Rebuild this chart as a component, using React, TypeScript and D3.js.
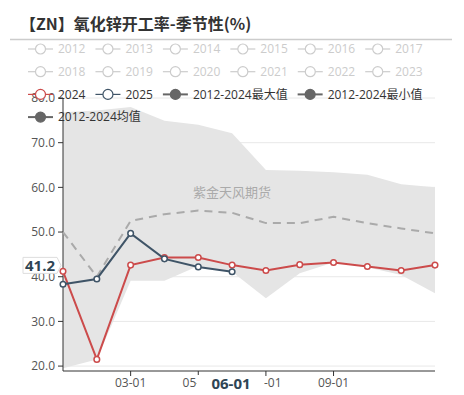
import React from 'react';
import * as d3 from 'd3';

const months = ['01-01', '02-01', '03-01', '04-01', '05-01', '06-01', '07-01', '08-01', '09-01', '10-01', '11-01', '12-01'];
const shownTicks = ['03-01', '05-01', '07-01', '09-01'];
const yTicks = [20, 30, 40, 50, 60, 70, 80];

const values2024 = [41.2, 21.5, 42.6, 44.3, 44.3, 42.6, 41.4, 42.7, 43.2, 42.3, 41.4, 42.6];
const values2025 = [38.3, 39.5, 49.7, 44.0, 42.2, 41.1];
const maxValues = [76.8, 77.2, 78.0, 74.9, 74.0, 72.1, 63.9, 63.7, 63.4, 62.8, 60.7, 60.0];
const minValues = [19.5, 21.5, 39.1, 39.1, 42.4, 41.1, 35.2, 40.8, 43.2, 42.1, 40.4, 36.3];
const meanValues = [50.0, 40.0, 52.5, 54.0, 54.8, 54.3, 52.0, 52.0, 53.4, 52.0, 50.8, 49.7];

const offYears = ['2012', '2013', '2014', '2015', '2016', '2017', '2018', '2019', '2020', '2021', '2022', '2023'];
const activeLegend = [
  { name: '2024', color: '#cc4b4b', hollow: true },
  { name: '2025', color: '#3f5467', hollow: true },
  { name: '2012-2024最大值', color: '#666', hollow: false },
  { name: '2012-2024最小值', color: '#666', hollow: false },
  { name: '2012-2024均值', color: '#666', hollow: false },
];

const W = 464;
const H = 395;
const RED = '#cc4b4b';
const SLATE = '#3f5467';
const LEGEND_FONT = '12px "Open Sans", "Noto Sans CJK SC", sans-serif';

let ctx: CanvasRenderingContext2D | null = null;
function textWidth(s: string) {
  if (!ctx) ctx = document.createElement('canvas').getContext('2d');
  if (!ctx) return s.length * 7;
  ctx.font = LEGEND_FONT;
  return ctx.measureText(s).width;
}

export default function App() {
  const x = d3.scalePoint<string>().domain(months).range([63, 435]);
  const y = d3.scaleLinear().domain([18.9, 80]).range([371, 98]);

  const band = d3
    .area<number>()
    .x((_, i) => x(months[i]) as number)
    .y0((_, i) => y(minValues[i]))
    .y1(d => y(d));
  const line = d3
    .line<number>()
    .x((_, i) => x(months[i]) as number)
    .y(d => y(d));

  // legend flow layout
  const items = [
    ...offYears.map(n => ({ name: n, color: '#ccc', hollow: true, off: true })),
    ...activeLegend.map(d => ({ ...d, off: false })),
  ];
  const legend: { name: string; color: string; hollow: boolean; off: boolean; lx: number; ly: number }[] = [];
  let cx = 28;
  let row = 0;
  items.forEach(it => {
    const w = 30 + textWidth(it.name);
    if (cx + w > 452) {
      row += 1;
      cx = 28;
    }
    legend.push({ ...it, lx: cx, ly: 49 + row * 22.7 });
    cx += w + 10;
  });

  const pointerY = y(41.2) - 6;

  return (
    <svg width={W} height={H} style={{ position: 'absolute', left: 0, top: 0 }} fontFamily='"Open Sans", "Noto Sans CJK SC", sans-serif'>
      <rect width={W} height={H} fill="#fff" />
      <text x={20} y={30} fontSize={16} fontWeight="bold" fill="#333" fontFamily='"Noto Sans CJK SC", sans-serif'>
        【ZN】氧化锌开工率-季节性(%)
      </text>
      <line x1={10} x2={452} y1={39.5} y2={39.5} stroke="#ccc" strokeWidth={1.5} />

      {/* grid */}
      {yTicks.map(t => (
        <line key={t} x1={63} x2={435} y1={y(t)} y2={y(t)} stroke="#e8e8e8" />
      ))}

      <path d={band(maxValues) || ''} fill="#e5e5e5" />

      <text x={232} y={197} textAnchor="middle" fontSize={13} fill="#aaa" fontFamily='"Noto Sans CJK SC", sans-serif'>
        紫金天风期货
      </text>

      {/* axes */}
      <line x1={63} x2={63} y1={98} y2={371} stroke="#333" />
      <line x1={63} x2={435} y1={371} y2={371} stroke="#333" />
      {yTicks.map(t => (
        <g key={t}>
          <line x1={58} x2={63} y1={y(t)} y2={y(t)} stroke="#333" />
          <text x={55} y={y(t)} dy="0.35em" textAnchor="end" fontSize={12} fill="#555">
            {t.toFixed(1)}
          </text>
        </g>
      ))}
      {shownTicks.map(m => (
        <g key={m}>
          <line x1={x(m)} x2={x(m)} y1={371} y2={376} stroke="#333" />
          <text x={x(m)} y={383} dy="0.35em" textAnchor="middle" fontSize={12} fill="#555">
            {m}
          </text>
        </g>
      ))}

      {/* series */}
      <path d={line(meanValues) || ''} fill="none" stroke="#aaa" strokeWidth={2} strokeDasharray="8,6" />
      <path d={line(values2024) || ''} fill="none" stroke={RED} strokeWidth={2} />
      {values2024.map((v, i) => (
        <circle key={i} cx={x(months[i])} cy={y(v)} r={2.8} fill="#fff" stroke={RED} strokeWidth={1.5} />
      ))}
      <path d={line(values2025) || ''} fill="none" stroke={SLATE} strokeWidth={2} />
      {values2025.map((v, i) => (
        <circle key={i} cx={x(months[i])} cy={y(v)} r={2.8} fill="#fff" stroke={SLATE} strokeWidth={1.5} />
      ))}

      {/* legend */}
      {legend.map(l => (
        <g key={l.name} transform={`translate(${l.lx},${l.ly})`}>
          <line x1={0} x2={25} y1={0} y2={0} stroke={l.color} strokeWidth={l.hollow ? 1.2 : 2} />
          <circle cx={12.5} cy={0} r={5} fill={l.hollow ? '#fff' : l.color} stroke={l.color} strokeWidth={1.2} />
          <text x={30} y={0} dy="0.35em" fontSize={12} fill={l.off ? '#ccc' : '#333'}>
            {l.name}
          </text>
        </g>
      ))}

      {/* axis pointer labels */}
      <g>
        <rect x={197} y={375} width={67} height={19} fill="#fff" />
        <text x={231} y={384} dy="0.35em" textAnchor="middle" fontSize={15} fontWeight="bold" fill="#2f4554">
          06-01
        </text>
      </g>
      <g>
        <path
          d={`M23,${pointerY - 8}H57L61,${pointerY}L57,${pointerY + 8}H23Z`}
          fill="#fff"
          stroke="#ddd"
        />
        <text x={40} y={pointerY} dy="0.35em" textAnchor="middle" fontSize={15} fontWeight="bold" fill="#2f4554">
          41.2
        </text>
      </g>
    </svg>
  );
}
